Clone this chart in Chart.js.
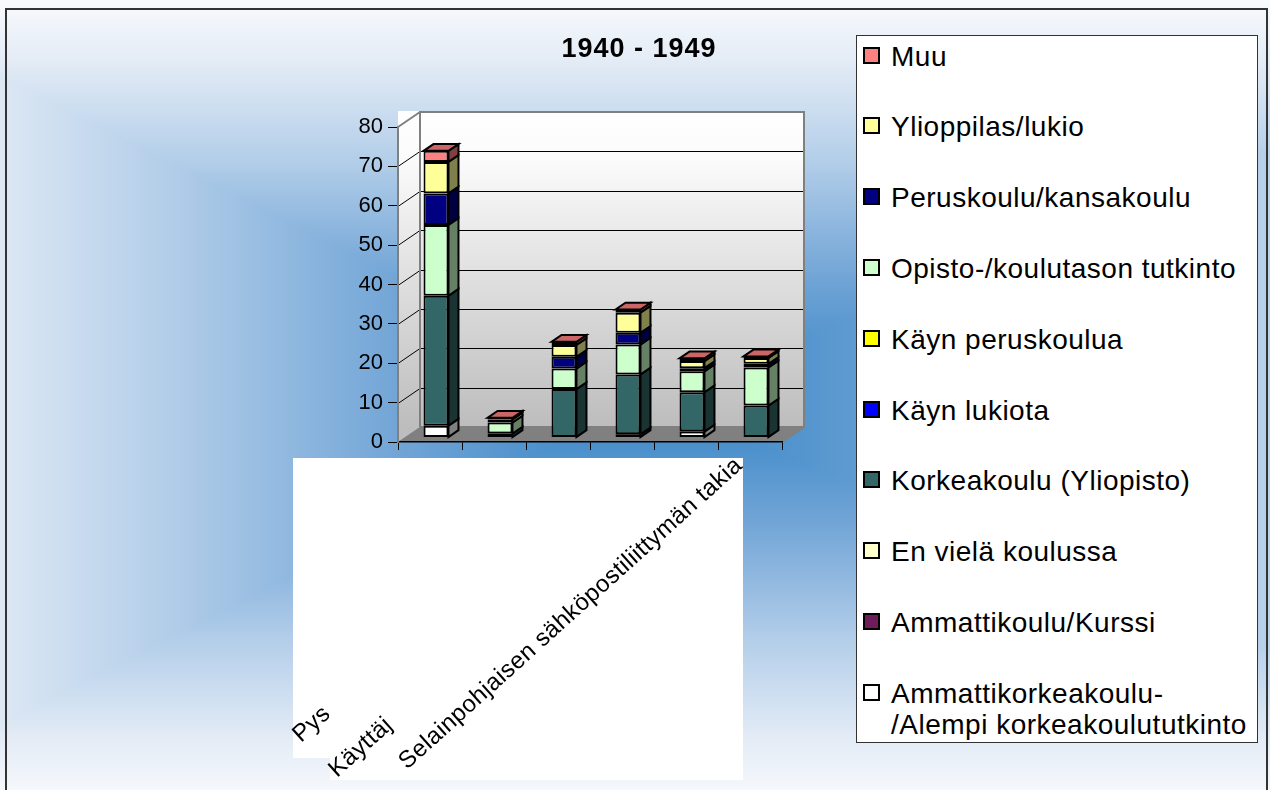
<!DOCTYPE html>
<html>
<head>
<meta charset="utf-8">
<script src="https://cdn.jsdelivr.net/npm/chart.js@4/dist/chart.umd.min.js"></script>
<style>
html,body{margin:0;padding:0;background:#fff;}
#wrap{position:relative;width:1270px;height:790px;overflow:hidden;font-family:"Liberation Sans",Arial,sans-serif;color:#000;}
#chart{position:absolute;left:0;top:0;}
#title{position:absolute;left:0;width:1278px;top:35px;text-align:center;font-weight:bold;font-size:27px;line-height:27px;letter-spacing:1px;}
#legend{position:absolute;left:856px;top:35px;width:400px;height:706px;background:#fff;border:1px solid #333;}
.item{position:absolute;left:34px;font-size:28px;line-height:31px;letter-spacing:0.5px;white-space:nowrap;}
.box{position:absolute;left:6px;width:17px;height:17px;border:2px solid #000;box-sizing:border-box;}
</style>
</head>
<body>
<div id="wrap">
<canvas id="chart" width="1270" height="790"></canvas>
<div id="title">1940 - 1949</div>
<div id="legend"></div>
</div>
<script>
// categories (only the first three labels are visible in the picture)
const categories=["Pys","Käyttäj","Selainpohjaisen sähköpostiliittymän takia","","",""];

// series, bottom of the stack first
const seriesNames=[
"Ammattikorkeakoulu-/Alempi korkeakoulututkinto",
"Ammattikoulu/Kurssi",
"En vielä koulussa",
"Korkeakoulu (Yliopisto)",
"Käyn lukiota",
"Käyn peruskoulua",
"Opisto-/koulutason tutkinto",
"Peruskoulu/kansakoulu",
"Ylioppilas/lukio",
"Muu"
];
const seriesColors=["#ffffff","#6e1c5a","#ffffcc","#336666","#0000ff","#ffff00","#ccffcc","#000080","#ffff99","#ff8080"];

const amk=[3,0,0,0.8,1.5,0];
const ammattikoulu=[0,0,0,0,0,0];
const enViela=[0,0,0,0,0,0];
const korkeakoulu=[33,1,12.3,15.2,10,8.1];
const kaynLukiota=[0,0,0,0,0,0];
const kaynPeruskoulua=[0,0,0,0,0,0];
const opisto=[18,2.8,5.2,7.6,5.3,9.7];
const peruskoulu=[8,0,3,3,0.8,0.9];
const ylioppilas=[8,0.8,3,5.1,1.8,1.5];
const muu=[2.8,0.4,0.8,0.8,0.7,0.4];
const seriesValues=[amk,ammattikoulu,enViela,korkeakoulu,kaynLukiota,kaynPeruskoulua,opisto,peruskoulu,ylioppilas,muu];

const yTicks=[0,10,20,30,40,50,60,70,80];

// 3d look
const WALL_DX=22, WALL_DY=15;
const BAR_SHIFT_X=6, BAR_SHIFT_Y=-4.5;
const BAR_DX=10, BAR_DY=6.8;
const labelStarts=[[301,743],[337,778],[407,770]];
const labelClips=[329,402,1270];

function shade(hex,f){
const n=parseInt(hex.slice(1),16);
const r=Math.round(((n>>16)&255)*f), g=Math.round(((n>>8)&255)*f), b=Math.round((n&255)*f);
return `rgb(${r},${g},${b})`;
}

function drawBackground(ctx){
const x0=-150,x1=1650,y0=0,y1=800,cx=640,cy=400;
const stops=[[0,"#3584c5"],[0.3,"#70a4d6"],[0.6,"#b3cee9"],[0.85,"#e4ecf6"],[1,"#f8fafd"]];
const tris=[
[[x0,y0],[x1,y0],[cx,cy,cx,y0]],
[[x1,y0],[x1,y1],[cx,cy,x1,cy]],
[[x1,y1],[x0,y1],[cx,cy,cx,y1]],
[[x0,y1],[x0,y0],[cx,cy,x0,cy]]
];
tris.forEach(t=>{
const g=ctx.createLinearGradient(...t[2]);
stops.forEach(s=>g.addColorStop(s[0],s[1]));
ctx.beginPath();
ctx.moveTo(...t[0]);ctx.lineTo(...t[1]);ctx.lineTo(cx,cy);ctx.closePath();
ctx.fillStyle=g;ctx.strokeStyle=g;ctx.lineWidth=1;
ctx.fill();ctx.stroke();
});
}

const scene={
id:"scene",
beforeDraw(chart){
const ctx=chart.ctx, a=chart.chartArea, ys=chart.scales.y;
const yTop=ys.getPixelForValue(80), yBase=ys.getPixelForValue(0);
ctx.save();
drawBackground(ctx);
ctx.strokeStyle="#333";ctx.lineWidth=2;
ctx.strokeRect(6,9,1261,800);

// white box behind category labels
ctx.fillStyle="#fff";
ctx.fillRect(293,458,450,300);
ctx.fillRect(330,758,413,22);

// plot area
ctx.fillRect(a.left,yTop-WALL_DY-1,a.right+WALL_DX-a.left,yBase-yTop+2);

let g=ctx.createLinearGradient(0,yTop-WALL_DY,0,yBase-WALL_DY);
g.addColorStop(0,"#ffffff");g.addColorStop(0.15,"#fbfbfb");g.addColorStop(1,"#bdbdbd");
ctx.fillStyle=g;
ctx.fillRect(a.left+WALL_DX,yTop-WALL_DY,a.right-a.left,yBase-yTop);

ctx.beginPath();
ctx.moveTo(a.left,yTop);ctx.lineTo(a.left+WALL_DX,yTop-WALL_DY);
ctx.lineTo(a.left+WALL_DX,yBase-WALL_DY);ctx.lineTo(a.left,yBase);ctx.closePath();
ctx.fill();

// floor
ctx.beginPath();
ctx.moveTo(a.left,yBase);ctx.lineTo(a.right,yBase);
ctx.lineTo(a.right+WALL_DX,yBase-WALL_DY);ctx.lineTo(a.left+WALL_DX,yBase-WALL_DY);ctx.closePath();
ctx.fillStyle="#808080";ctx.fill();

// grid on the walls
ctx.strokeStyle="#000";ctx.lineWidth=1;
yTicks.forEach(v=>{
if(v===0||v===80) return;
const py=Math.round(ys.getPixelForValue(v))+0.5;
ctx.beginPath();
ctx.moveTo(a.left,py);ctx.lineTo(a.left+WALL_DX,py-WALL_DY);
ctx.lineTo(a.right+WALL_DX,py-WALL_DY);
ctx.stroke();
});

// wall outlines
ctx.strokeStyle="#808080";ctx.lineWidth=2;
ctx.strokeRect(a.left+WALL_DX,yTop-WALL_DY,a.right-a.left,yBase-yTop);
ctx.beginPath();
ctx.moveTo(a.left,yTop);ctx.lineTo(a.left+WALL_DX,yTop-WALL_DY);
ctx.moveTo(a.right,yBase);ctx.lineTo(a.right+WALL_DX,yBase-WALL_DY);
ctx.stroke();
ctx.restore();
},
beforeDatasetsDraw(chart){
chart.ctx.save();
chart.ctx.translate(BAR_SHIFT_X,BAR_SHIFT_Y);
},
afterDatasetsDraw(chart){
const ctx=chart.ctx;
ctx.lineWidth=2;ctx.strokeStyle="#000";ctx.lineJoin="miter";
const tops=[];
chart.data.datasets.forEach((ds,d)=>{
const meta=chart.getDatasetMeta(d);
meta.data.forEach((el,i)=>{
if(!ds.data[i]) return;
const p=el.getProps(["x","y","base","width"],true);
const R=p.x+p.width/2, t=Math.min(p.y,p.base), b=Math.max(p.y,p.base);
ctx.beginPath();
ctx.moveTo(R,t);ctx.lineTo(R+BAR_DX,t-BAR_DY);
ctx.lineTo(R+BAR_DX,b-BAR_DY);ctx.lineTo(R,b);ctx.closePath();
ctx.fillStyle=shade(seriesColors[d],0.5);
ctx.fill();ctx.stroke();
tops[i]={p:p,d:d};
});
});
tops.forEach(tp=>{
if(!tp) return;
const p=tp.p, L=p.x-p.width/2, R=p.x+p.width/2, t=Math.min(p.y,p.base);
ctx.beginPath();
ctx.moveTo(L,t);ctx.lineTo(L+BAR_DX,t-BAR_DY);
ctx.lineTo(R+BAR_DX,t-BAR_DY);ctx.lineTo(R,t);ctx.closePath();
ctx.fillStyle=shade(seriesColors[tp.d],0.8);
ctx.fill();ctx.stroke();
});
ctx.restore();
},
afterDraw(chart){
const ctx=chart.ctx;
ctx.save();
ctx.font="24px 'Liberation Sans', Arial, sans-serif";
ctx.letterSpacing="0.4px";
ctx.fillStyle="#000";
ctx.textBaseline="alphabetic";
categories.forEach((c,i)=>{
if(!c||!labelStarts[i]) return;
const [sx,sy]=labelStarts[i];
ctx.save();
ctx.beginPath();
ctx.rect(0,0,labelClips[i],790);
ctx.clip();
ctx.translate(sx,sy);
ctx.rotate(-42*Math.PI/180);
ctx.fillText(c,0,0);
ctx.restore();
});
ctx.restore();
}
};

new Chart(document.getElementById("chart"),{
type:"bar",
data:{
labels:categories,
datasets:seriesNames.map((n,i)=>({
label:n,
data:seriesValues[i],
backgroundColor:seriesColors[i],
borderColor:"#000",
borderWidth:2,
borderSkipped:false
}))
},
options:{
responsive:false,
animation:false,
devicePixelRatio:1,
layout:{padding:{left:338,right:488,top:127,bottom:0}},
plugins:{legend:{display:false},title:{display:false},tooltip:{enabled:false}},
datasets:{bar:{categoryPercentage:1,barPercentage:0.39,clip:false}},
scales:{
x:{
stacked:true,
grid:{display:true,drawOnChartArea:false,drawTicks:true,tickLength:8,color:"#000",offset:true},
ticks:{display:false},
border:{display:true,color:"#000",width:1.5},
afterFit(s){s.height=348;}
},
y:{
stacked:true,min:0,max:80,
afterBuildTicks(s){s.ticks=yTicks.map(v=>({value:v}));},
ticks:{color:"#000",font:{family:"'Liberation Sans', Arial",size:22},padding:5},
grid:{drawOnChartArea:false,drawTicks:true,tickLength:10,color:"#000",lineWidth:1},
border:{display:true,color:"#808080",width:2},
afterFit(s){s.width=60;}
}
}
},
plugins:[scene]
});

// legend, top entry = last series
const legend=document.getElementById("legend");
for(let k=0;k<seriesNames.length;k++){
const d=seriesNames.length-1-k;
const base=29+70.8*k;
const box=document.createElement("div");
box.className="box";
box.style.top=(base-18.5)+"px";
box.style.background=seriesColors[d];
legend.appendChild(box);
const item=document.createElement("div");
item.className="item";
item.style.top=(base-24.5)+"px";
const name=seriesNames[d];
item.innerHTML=name.startsWith("Ammattikorkeakoulu-/")?name.replace("-/","-<br>/"):name;
legend.appendChild(item);
}
</script>
</body>
</html>
